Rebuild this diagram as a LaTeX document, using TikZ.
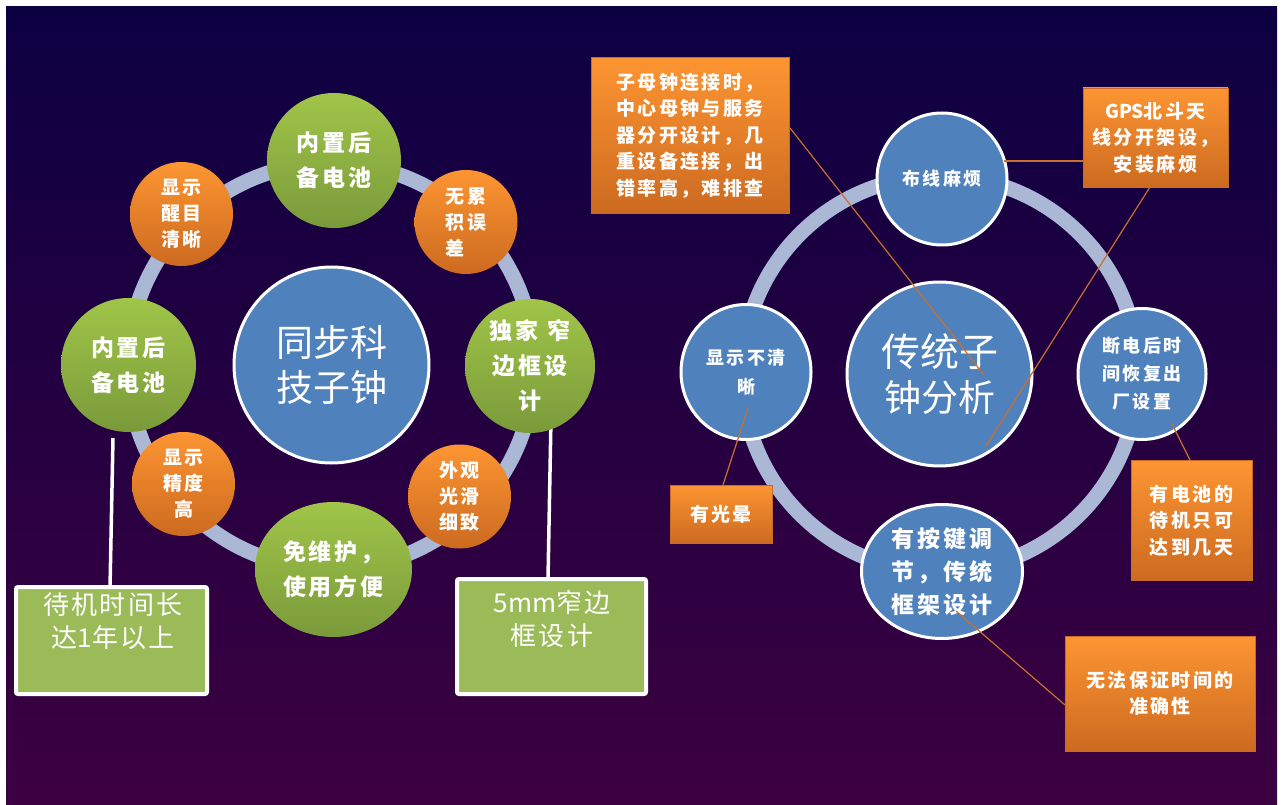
\documentclass[tikz,border=0pt]{standalone}
\usepackage{fontspec}
\setmainfont{Noto Sans CJK SC}
\newfontfamily\spacedcjk[LetterSpace=13]{Noto Sans CJK SC}
\newfontfamily\lesscjk[LetterSpace=8]{Noto Sans CJK SC}
\usetikzlibrary{shapes.geometric}
\definecolor{bgtop}{HTML}{0C0042}
\definecolor{bgbot}{HTML}{3C0040}
\definecolor{ringc}{HTML}{AAB8D6}
\definecolor{blueC}{HTML}{4F81BD}
\definecolor{orTop}{HTML}{FD9532}
\definecolor{orBot}{HTML}{CC6A20}
\definecolor{grTop}{HTML}{A0C548}
\definecolor{grBot}{HTML}{7A9A3B}
\definecolor{boxgreen}{HTML}{9BBB59}
\definecolor{lineOr}{HTML}{C8702E}
\definecolor{orEdge}{HTML}{C96A2A}
\begin{document}
\begin{tikzpicture}[x=1pt,y=-1pt,
  greenball/.style={ellipse, top color=grTop, bottom color=grBot, text=white, font=\spacedcjk\fontsize{23}{35}\selectfont\bfseries, align=center, inner sep=0},
  orball/.style={ellipse, top color=orTop, bottom color=orBot, text=white, font=\spacedcjk\fontsize{19}{26}\selectfont\bfseries, align=center, inner sep=0},
  blueball/.style={ellipse, fill=blueC, draw=white, line width=3pt, text=white, font=\spacedcjk\fontsize{18}{29}\selectfont\bfseries, align=center, inner sep=0},
  hub/.style={ellipse, fill=blueC, draw=white, line width=3pt, text=white, font=\fontsize{37}{45}\selectfont, align=center, inner sep=0},
  orbox/.style={rectangle, top color=orTop, bottom color=orBot, draw=orEdge, line width=0.8pt, text=white, font=\spacedcjk\fontsize{19}{26.5}\selectfont\bfseries, align=center, inner sep=0},
  grbox/.style={rectangle, fill=boxgreen, draw=white, line width=4pt, rounded corners=2pt, inner sep=0},
  grboxtext/.style={text=white, font=\lesscjk\fontsize{26}{33}\selectfont, align=center, inner sep=0},
  ring/.style={draw=ringc, line width=15pt},
  whiteline/.style={draw=white, line width=3.5pt},
  orline/.style={draw=lineOr, line width=1.2pt},
]
\useasboundingbox (0,0) rectangle (1286,805);
\fill[white] (0,0) rectangle (1286,805);
\shade[top color=bgtop, bottom color=bgbot] (6,7) rectangle (1277,805);

% ---------------- left diagram ----------------
\draw[ring] (331,366) circle[radius=203];
\coordinate (wl1a) at (113,438);
\coordinate (wl1b) at (110,588);
\coordinate (wl2a) at (551,418);
\coordinate (wl2b) at (548,579);
\draw[whiteline] (wl1a) -- (wl1b);
\draw[whiteline] (wl2a) -- (wl2b);

\node[hub, minimum width=195, minimum height=196] (hubL) at (331.5,365) {同步科\\技子钟};

\node[greenball, minimum width=134, minimum height=135] (gTop) at (334,160.5) {内置后\\备电池};
\node[greenball, minimum width=135, minimum height=134] (gLeft) at (128.5,365) {内置后\\备电池};
\node[greenball, minimum width=130, minimum height=134] (gRight) at (530,366) {独家 窄\\边框设\\计};
\node[greenball, minimum width=157, minimum height=135, align=left] (gBot) at (333.5,569.5) {免维护，\\使用方便};

\node[orball, minimum width=103, minimum height=104] (oTL) at (181.5,214) {显示\\醒目\\清晰};
\node[orball, minimum width=103, minimum height=104, align=left] (oTR) at (466,222) {无累\\积误\\差};
\node[orball, minimum width=103, minimum height=104] (oBL) at (183.5,484) {显示\\精度\\高};
\node[orball, minimum width=103, minimum height=104] (oBR) at (459.5,496.5) {外观\\光滑\\细致};

\node[grbox, minimum width=191, minimum height=107] (bxL) at (111.5,640.5) {};
\node[grboxtext] (bxLt) at (113,621) {待机时间长\\达{\rmfamily 1}年以上};
\node[grbox, minimum width=189, minimum height=115] (bxR) at (551.5,636.5) {};
\node[grboxtext] (bxRt) at (552,619) {{\rmfamily 5mm}窄边\\框设计};

% ---------------- right diagram ----------------
\draw[ring] (940,374) circle[radius=198];
\node[hub, minimum width=185, minimum height=184] (hubR) at (939.5,374) {\fontsize{39}{47}\selectfont 传统子\\钟分析};

\node[blueball, minimum width=130, minimum height=132] (bTop) at (942,179) {布线麻烦};
\node[blueball, minimum width=130, minimum height=135] (bLeft) at (746,372) {显示不清\\晰};
\node[blueball, minimum width=128, minimum height=131, font=\spacedcjk\fontsize{18}{28}\selectfont\bfseries] (bRight) at (1142,374) {断电后时\\间恢复出\\厂设置};
\node[blueball, minimum width=161, minimum height=134, font=\spacedcjk\fontsize{23}{33}\selectfont\bfseries] (bBot) at (942,571.5) {有按键调\\节，传统\\框架设计};

\node[orbox, minimum width=198, minimum height=156] (cA) at (690,135.5) {子母钟连接时，\\中心母钟与服务\\器分开设计，几\\重设备连接，出\\错率高，难排查};
\node[orbox, minimum width=145, minimum height=99] (cB) at (1155.5,137.5) {{\rmfamily\bfseries GPS}北斗天\\线分开架设，\\安装麻烦};
\node[orbox, minimum width=102, minimum height=58] (cC) at (721,514) {有光晕};
\node[orbox, minimum width=121, minimum height=120] (cD) at (1191.5,520.5) {有电池的\\待机只可\\达到几天};
\node[orbox, minimum width=190, minimum height=115] (cE) at (1160,693.5) {无法保证时间的\\准确性};

\coordinate (pA1) at (790,128);
\coordinate (pA2) at (984,375);
\coordinate (pB0) at (1004,161);
\coordinate (pB1) at (1083,161);
\coordinate (pB2) at (1150,187);
\coordinate (pB3) at (986,446);
\coordinate (pC1) at (723,485);
\coordinate (pC2) at (748,408);
\coordinate (pD1) at (1172,424);
\coordinate (pD2) at (1190,460);
\coordinate (pE1) at (956,611);
\coordinate (pE2) at (1065,705);

\draw[orline] (pA1) -- (pA2);
\draw[orline] (pB0) -- (pB1);
\draw[orline] (pB2) -- (pB3);
\draw[orline] (pC1) -- (pC2);
\draw[orline] (pD1) -- (pD2);
\draw[orline] (pE1) -- (pE2);
\end{tikzpicture}
\end{document}
